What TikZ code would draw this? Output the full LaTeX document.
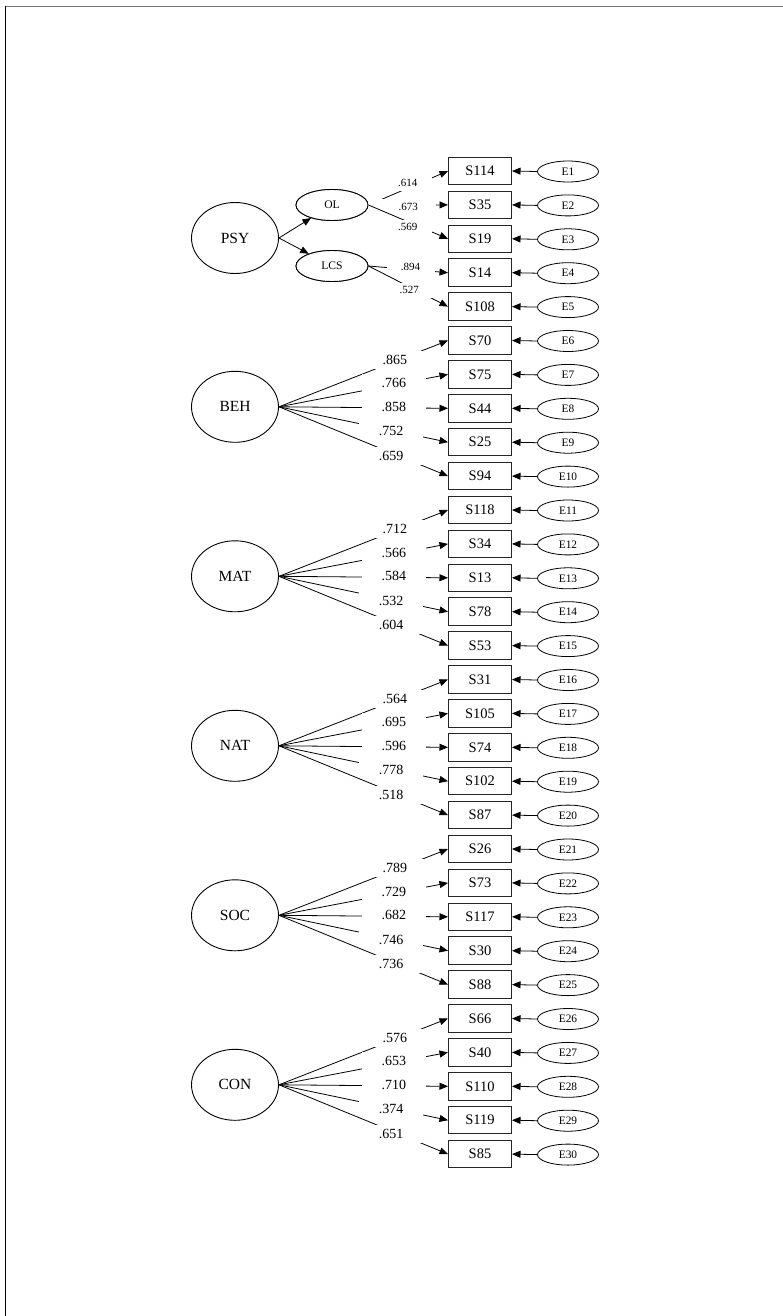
\documentclass[tikz,border=0pt]{standalone}
\usepackage{fontspec}
\setmainfont{Liberation Serif}
\usetikzlibrary{arrows.meta,shapes.geometric}
\begin{document}
\begin{tikzpicture}[x=1pt,y=-1pt,
  every node/.style={inner sep=0pt},
  lat/.style={ellipse,draw,fill=white,line width=0.9pt,minimum width=87pt,minimum height=71pt,font=\fontsize{15.5}{17}\selectfont},
  sub/.style={ellipse,draw,fill=white,line width=0.9pt,minimum width=72pt,minimum height=31pt,font=\fontsize{11.6}{13}\selectfont},
  obs/.style={rectangle,draw=black!85,fill=white,line width=1pt,minimum width=63pt,minimum height=27.5pt,font=\fontsize{14.5}{16}\selectfont},
  err/.style={ellipse,draw,fill=white,line width=0.8pt,minimum width=61pt,minimum height=21pt,font=\fontsize{11.4}{13}\selectfont},
  arr/.style={line width=0.8pt,-{Triangle[length=8.5pt,width=7pt]}},
  lbl/.style={fill=white,minimum width=64pt,minimum height=18pt,font=\fontsize{14}{16}\selectfont},
  lbls/.style={fill=white,minimum width=48pt,minimum height=15pt,font=\fontsize{11}{13}\selectfont}
]
\useasboundingbox (0,0) rectangle (783,1316);
% frame
\draw[black!55,line width=1.3pt] (5,6.3) -- (783,6.3);
\draw[black,line width=1.3pt] (5.6,5.7) -- (5.6,1316);

% observed variables and errors
\foreach \i/\s in {1/S114,2/S35,3/S19,4/S14,5/S108,6/S70,7/S75,8/S44,9/S25,10/S94,
  11/S118,12/S34,13/S13,14/S78,15/S53,16/S31,17/S105,18/S74,19/S102,20/S87,
  21/S26,22/S73,23/S117,24/S30,25/S88,26/S66,27/S40,28/S110,29/S119,30/S85}{
  \node[obs] (B\i) at (480,{171+33.9*(\i-1)}) {\s};
  \node[err] (E\i) at (568,{171.5+33.9*(\i-1)}) {E\i};
  \draw[arr] (E\i.west) -- (B\i.east);
}

% PSY part
\node[lat] (PSY) at (235,238) {PSY};
\node[sub] (OL) at (332,205) {OL};
\node[sub] (LCS) at (332,266) {LCS};
\draw[arr] (PSY.east) -- (OL);
\draw[arr] (PSY.east) -- (LCS);
\draw[arr] (OL.east) -- node[lbls,pos=0.493,yshift=5pt]{.614} (B1.west);
\draw[arr] (OL.east) -- node[lbls,pos=0.5,yshift=-1.8pt,minimum width=68pt,xshift=-6pt]{\hspace*{12pt}.673} (B2.west);
\draw[arr] (OL.east) -- node[lbls,pos=0.493,yshift=-5.6pt]{.569} (B3.west);
\draw[arr] (LCS.east) -- node[lbls,pos=0.53,yshift=2.3pt]{.894} (B4.west);
\draw[arr] (LCS.east) -- node[lbls,pos=0.513,yshift=-3.2pt]{.527} (B5.west);
\node[sub] at (OL) {OL};
\node[sub] at (LCS) {LCS};

% first-order factors
\foreach \f/\k/\la/\lb/\lc/\ld/\le in {BEH/1/.865/.766/.858/.752/.659,
  MAT/2/.712/.566/.584/.532/.604, NAT/3/.564/.695/.596/.778/.518,
  SOC/4/.789/.729/.682/.746/.736, CON/5/.576/.653/.710/.374/.651}{
  \pgfmathtruncatemacro\ba{5*\k+1}
  \pgfmathtruncatemacro\bb{5*\k+2}
  \pgfmathtruncatemacro\bc{5*\k+3}
  \pgfmathtruncatemacro\bd{5*\k+4}
  \pgfmathtruncatemacro\be{5*\k+5}
  \node[lat] (\f) at (235,{169.5+33.9*(5*\k+2)}) {\f};
  \draw[arr] (\f.east) -- node[lbl,pos=0.686,yshift=1.5pt]{\la} (B\ba.west);
  \draw[arr] (\f.east) -- node[lbl,pos=0.68,yshift=1.5pt]{\lb} (B\bb.west);
  \draw[arr] (\f.east) -- node[lbl,pos=0.68,yshift=1pt]{\lc} (B\bc.west);
  \draw[arr] (\f.east) -- node[lbl,pos=0.663,yshift=-1pt]{\ld} (B\bd.west);
  \draw[arr] (\f.east) -- node[lbl,pos=0.663,yshift=-3pt]{\le} (B\be.west);
}
\end{tikzpicture}
\end{document}
